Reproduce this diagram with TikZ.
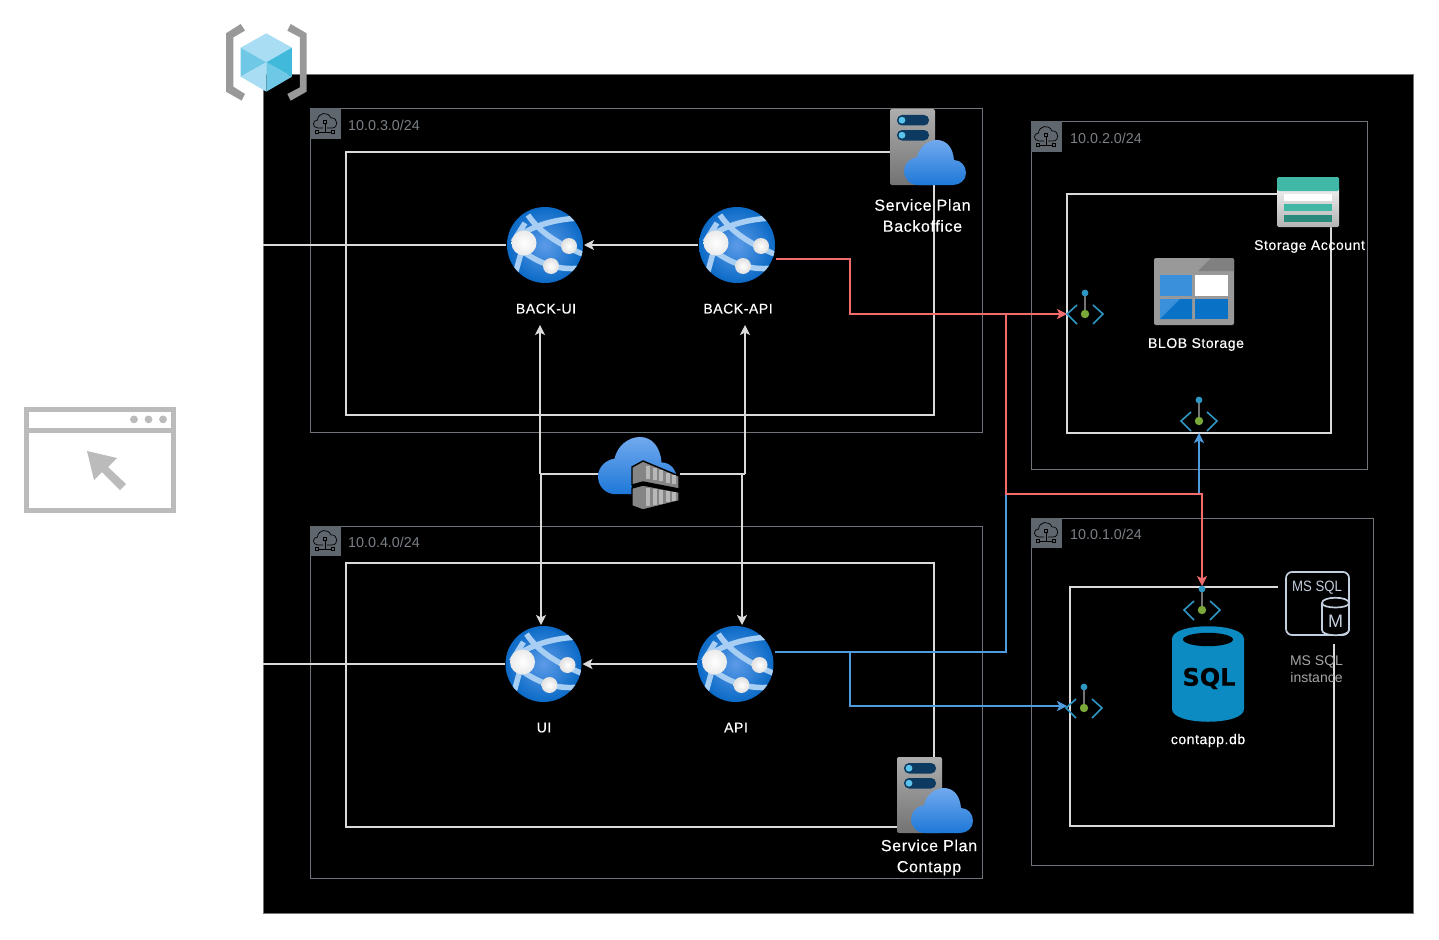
\documentclass[tikz,border=0pt]{standalone}
\usepackage{fontspec}
\setmainfont{Liberation Sans}
\newfontfamily\labelfont[LetterSpace=4,FakeBold=0.35]{Liberation Sans}
\newfontfamily\narrowfont[FakeStretch=0.88]{Liberation Sans}
\newfontfamily\sqlfont[FakeBold=0.6]{DejaVu Sans}
\usetikzlibrary{positioning,arrows.meta}

\definecolor{subnetline}{HTML}{6E747A}
\definecolor{subnettext}{HTML}{7B8086}
\definecolor{subnethead}{HTML}{5F666E}
\definecolor{boxline}{HTML}{DADADA}
\definecolor{linkred}{HTML}{F06C6C}
\definecolor{linkblue}{HTML}{4E9BE0}
\definecolor{cloudtop}{HTML}{71A9EE}
\definecolor{cloudlow}{HTML}{1E78D8}
\definecolor{pegreen}{HTML}{7AA93A}
\definecolor{peblue}{HTML}{2F97C4}
\definecolor{teal}{HTML}{41B8A5}
\definecolor{darkteal}{HTML}{2A8B7D}
\definecolor{sqlblue}{HTML}{0B8BC1}
\definecolor{mssqlline}{HTML}{C3CEDF}
\definecolor{windowgrey}{HTML}{BBBBBB}
\definecolor{globemid}{HTML}{5C9BE8}
\definecolor{globeedge}{HTML}{0B6AC6}
\definecolor{globeband}{HTML}{A8CFF3}
\definecolor{pillnavy}{HTML}{0D3A60}
\definecolor{pilldot}{HTML}{5CC4EC}
\definecolor{hexlight}{HTML}{A9DDF3}
\definecolor{hexmid}{HTML}{6FC9E6}
\definecolor{hexdark}{HTML}{40B9DA}
\definecolor{panelight}{HTML}{3B90DC}
\definecolor{panedark}{HTML}{0A72C6}

\tikzset{
    cloudpath/.pic={
        \path[top color=cloudtop, bottom color=cloudlow, pic actions]
            (14,45) .. controls (5,45) and (0,38) .. (0,31)
            .. controls (0,24) and (6,18) .. (13,17)
            .. controls (15,7) and (24,0) .. (33,0)
            .. controls (42,0) and (49,7) .. (50,20)
            .. controls (57,20) and (62,26) .. (62,33)
            .. controls (62,40) and (56,45) .. (49,45) -- cycle;
    },
    webappicon/.pic={
        \shade[inner color=globemid, outer color=globeedge] (0,0) circle (38);
        \begin{scope}
            \clip (0,0) circle (38);
            \draw[line width=5.5pt, color=globeband]
                (-17,-30) .. controls (-5,-12) and (15,0) .. (40,10)
                (-30,-5) .. controls (-20,-16) and (5,-26) .. (36,-27)
                (-20,8) .. controls (-8,16) and (10,26) .. (36,23)
                (-24,8) -- (-30,30)
                (-20,-22) -- (-32,-3);
        \end{scope}
        \shade[inner color=white, outer color=black!8] (-21,-2) circle (12.5);
        \shade[inner color=white, outer color=black!12] (24,1) circle (8);
        \shade[inner color=white, outer color=black!12] (6,21) circle (8);
    },
    planicon/.pic={
        \draw[rounded corners=2pt, draw=none, top color=black!32, bottom color=black!55] (0,0) rectangle (45,76);
        \foreach \row in {6,21}{
            \fill[color=pillnavy, rounded corners=5pt] (7,\row) rectangle (39,\row+10.5);
            \fill[color=pilldot] (12,\row+5.2) circle (3.4);
        }
        \pic[shift={(14,31)}] {cloudpath};
    },
    crateicon/.pic={
        \fill[color=black] (0,24) -- (11,21) -- (47,28) -- (47,31) -- (11,24) -- (0,27) -- cycle;
        \filldraw[draw=black, line width=1.4pt, fill=black!48]
            (0,6) -- (11,0) -- (47,15) -- (47,28) -- (11,21) -- (0,24) -- cycle;
        \filldraw[draw=black, line width=1.4pt, fill=black!48]
            (0,27) -- (11,24) -- (47,31) -- (47,40) -- (11,49) -- (0,45) -- cycle;
        \foreach \slat in {0,1,2,3,4}{
            \fill[color=black!28] (14+\slat*6.5,5+\slat*2.2) rectangle (18+\slat*6.5,18+\slat*1.2);
            \fill[color=black!28] (14+\slat*6.5,27+\slat*1.0) rectangle (18+\slat*6.5,45-\slat*1.2);
        }
    },
    storeicon/.pic={
        \fill[rounded corners=1.5pt, top color=black!6, bottom color=black!30] (0,10) rectangle (62,50);
        \fill[color=teal, rounded corners=1.5pt] (0,0) rectangle (62,14);
        \fill[color=white] (7,17) rectangle (55,24);
        \fill[color=teal] (7,27) rectangle (55,34);
        \fill[color=darkteal] (7,38) rectangle (55,45);
    },
    blobicon/.pic={
        \fill[color=black!40, rounded corners=2pt] (0,0) rectangle (80,67);
        \fill[color=black!50] (57,0) -- (78,0) -- (80,2) -- (80,13) -- (44,13) -- cycle;
        \fill[color=panelight] (6,17) rectangle (38,38);
        \fill[color=white] (41,17) rectangle (74,38);
        \fill[color=panelight] (6,41) rectangle (38,61);
        \fill[color=panedark] (6,61) -- (26,41) -- (38,41) -- (38,61) -- cycle;
        \fill[color=panedark] (41,41) rectangle (74,61);
    },
    endpointicon/.pic={
        \draw[color=peblue, line width=1.6pt] (-8,-9) -- (-18,0) -- (-8,10) (8,-9) -- (18,0) -- (8,10);
        \draw[color=black!55, line width=1.6pt] (0,-21) -- (0,0);
        \fill[color=peblue] (0,-21) circle (3.4);
        \fill[color=pegreen] (0,0) circle (4.2);
    },
    sqlicon/.pic={
        \fill[color=sqlblue] (0,13) .. controls (0,-4) and (72,-4) .. (72,13) -- (72,83)
            .. controls (72,100) and (0,100) .. (0,83) -- cycle;
        \fill[color=black] (36,13.5) ellipse (25 and 6.7);
        \node[font=\sqlfont\bfseries\fontsize{24}{24}\selectfont, color=black, inner sep=0pt] (sqltext) at (37,52.5) {SQL};
    },
    mssqlicon/.pic={
        \fill[color=black] (-8,-7) rectangle (69,72);
        \draw[color=mssqlline, line width=1.7pt, rounded corners=6pt] (0,0) rectangle (63,63);
        \node[font=\narrowfont\fontsize{15}{15}\selectfont, color=mssqlline, inner sep=0pt] (mssqltext) at (31,16) {MS SQL};
        \filldraw[color=mssqlline, line width=1.7pt, fill=black] (36,31) .. controls (36,24) and (63,24) .. (63,31)
            -- (63,58) .. controls (63,65) and (36,65) .. (36,58) -- cycle;
        \draw[color=mssqlline, line width=1.7pt] (36,31) .. controls (36,37) and (63,37) .. (63,31);
        \node[font=\fontsize{18}{18}\selectfont, color=mssqlline, inner sep=0pt] (mssqlm) at (49.5,49) {M};
    },
    windowicon/.pic={
        \draw[color=windowgrey, line width=4.6pt] (0,0) rectangle (147,101);
        \draw[color=windowgrey, line width=4.6pt] (0,21) -- (147,21);
        \foreach \dot in {107.4,121.9,136.4}{
            \fill[color=windowgrey] (\dot,10) circle (3.9);
        }
        \fill[color=windowgrey] (60.4,41.6) -- (90.4,48.6) -- (81.4,57.6) -- (99.4,74.6) -- (93.4,80.6) -- (75.4,62.6) -- (67.4,70.6) -- cycle;
    },
    registryicon/.pic={
        \fill[color=black!40] (62,42) -- (75,62) -- (40,82) -- (40,230) -- (75,252) -- (65,272) -- (18,245) -- (18,70) -- cycle;
        \fill[color=black!40] (212,42) -- (260,70) -- (260,245) -- (212,272) -- (202,252) -- (240,232) -- (240,82) -- (202,62) -- cycle;
        \fill[color=hexlight] (139,70) -- (216,113) -- (139,157) -- (62,113) -- cycle;
        \fill[color=hexmid] (62,113) -- (139,157) -- (62,200) -- cycle;
        \fill[color=hexdark] (216,113) -- (139,157) -- (216,200) -- cycle;
        \fill[color=hexlight] (62,200) -- (139,157) -- (139,245) -- cycle;
        \fill[color=hexmid] (139,157) -- (216,200) -- (139,245) -- cycle;
    },
    subneticon/.pic={
        \fill[color=subnethead] (-0.5,-0.5) rectangle (31,30);
        \draw[color=black, line width=0.7pt] (8,19) .. controls (2,19) and (2,11) .. (7.5,11)
            .. controls (8,3.5) and (18,2) .. (21,9) .. controls (28,8) and (29,19) .. (22,19) -- (17,19)
            (13,19) -- (8,19);
        \draw[color=black, line width=0.7pt] (13.2,11) rectangle (16.8,14.5) (15,14.5) -- (15,23) (8.5,23) -- (21.5,23);
        \draw[color=black, line width=0.7pt] (5.2,21) rectangle (8.7,24.5) (21.3,21) rectangle (24.8,24.5);
    },
}

\begin{document}
\begin{tikzpicture}[
        x=1pt, y=-1pt,
        subnet/.style={draw=subnetline, line width=1pt},
        appbox/.style={draw=boxline, line width=1.15pt},
        subnetlabel/.style={color=subnettext, font=\fontsize{14.3}{14.3}\selectfont, anchor=west, inner sep=0pt},
        applabel/.style={color=white, font=\labelfont\fontsize{14}{14}\selectfont, inner sep=0pt},
        planlabel/.style={color=white, font=\labelfont\fontsize{16}{21}\selectfont, inner sep=0pt, align=center},
        sitenode/.style={minimum size=76pt, inner sep=0pt, outer sep=1pt},
        pepoint/.style={minimum width=36pt, minimum height=48pt, inner sep=0pt, outer sep=0pt},
        arr/.style={-{Stealth[length=10pt,width=10pt,inset=2.5pt]}, color=boxline, line width=1.15pt},
        plainlink/.style={color=boxline, line width=1.15pt},
        redlink/.style={-{Stealth[length=10pt,width=10pt,inset=2.5pt]}, color=linkred, line width=1.3pt},
        bluelink/.style={-{Stealth[length=10pt,width=10pt,inset=2.5pt]}, color=linkblue, line width=1.3pt},
    ]
    \useasboundingbox (0,0) rectangle (1439,939);
    \fill[color=white] (0,0) rectangle (1439,939);

    % --- Tlo i podsieci ---
    \filldraw[fill=black, draw=black!55, line width=0.6pt] (263,74) rectangle (1413.5,913);
    \draw[subnet] (310,109) rectangle (982,432);
    \draw[subnet] (1031,122) rectangle (1367,469);
    \draw[subnet] (310,526) rectangle (982,878);
    \draw[subnet] (1031,518) rectangle (1373,865);
    \draw[appbox] (346,152) rectangle (934,415);
    \draw[appbox] (346,563) rectangle (934,827);
    \draw[appbox] (1067,194) rectangle (1331,433);
    \draw[appbox] (1070,587) rectangle (1334,826);

    % --- Wezly ---
    \node[sitenode] (backui) at (545,245) {};
    \node[sitenode] (backapi) at (737,245) {};
    \node[sitenode] (ui) at (543.5,664) {};
    \node[sitenode] (api) at (735.5,664) {};
    \node[minimum width=82pt, minimum height=73pt, inner sep=0pt] (registry) at (639,474) {};
    \node[pepoint] (pestorage) at (1085,314) {};
    \node[pepoint, minimum height=24pt] (peblob) at (1199,421) {};
    \node[pepoint] (pesql) at (1202,610) {};
    \node[pepoint] (peapp) at (1085,706) {};

    \coordinate (inetback) at (263,245);
    \coordinate (inetfront) at (263,664);
    \coordinate (backapiout) at (776,259);
    \coordinate (redturn) at (850,314);
    \coordinate (redsplit) at (1006,314);
    \coordinate (crossing) at (1006,494);
    \coordinate (apiout) at (775,652);
    \coordinate (blueturn) at (850,706);
    \coordinate (regleftup) at (540,474);
    \coordinate (regrightup) at (745,474);
    \coordinate (regleftdown) at (541,474);
    \coordinate (regrightdown) at (742,474);
    \coordinate (backuiin) at (540,325);
    \coordinate (backapiin) at (745,325);

    % --- Strzalki ---
    \draw[plainlink] (inetback) -- (backui);
    \draw[plainlink] (inetfront) -- (ui);
    \draw[arr] (backapi.west) -- (backui.east);
    \draw[arr] (api.west) -- (ui.east);
    \draw[plainlink] (regleftup) -- (registry.west);
    \draw[plainlink] (registry.east) -- (regrightup);
    \draw[arr] (regleftup) -- (backuiin);
    \draw[arr] (regrightup) -- (backapiin);
    \draw[arr] (regleftdown) -- (regleftdown |- ui.north);
    \draw[arr] (regrightdown) -- (regrightdown |- api.north);
    \draw[bluelink, -] (apiout) -| (crossing);
    \draw[bluelink] (crossing) -| (peblob.south);
    \draw[bluelink] (apiout) -| (blueturn) -- (peapp.west);
    \draw[redlink] (backapiout) -| (redturn) -- (pestorage.west);
    \draw[redlink] (redsplit) -- (crossing) -| (pesql.north);

    % --- Ikony ---
    \pic at (26.6,409.4) {windowicon};
    \pic[scale=0.3333] at (220,10) {registryicon};
    \pic at (310,109) {subneticon};
    \pic at (1031,122) {subneticon};
    \pic at (310,526) {subneticon};
    \pic at (1031,518) {subneticon};
    \pic at (backui) {webappicon};
    \pic at (backapi) {webappicon};
    \pic at (ui) {webappicon};
    \pic at (api) {webappicon};
    \pic at (890,109) {planicon};
    \pic at (897,757) {planicon};
    \pic[scale=1.27] at (598,437) {cloudpath};
    \pic at (632,461) {crateicon};
    \pic at (1277,177) {storeicon};
    \pic at (1154,258) {blobicon};
    \pic at (1085,314) {endpointicon};
    \pic at (1199,421) {endpointicon};
    \pic at (1202,610) {endpointicon};
    \pic at (1084,708) {endpointicon};
    \pic at (1172,626) {sqlicon};
    \pic at (1286,572) {mssqlicon};

    % --- Opisy ---
    \node[subnetlabel] (lab3) at (348,125) {10.0.3.0/24};
    \node[subnetlabel] (lab2) at (1070,138) {10.0.2.0/24};
    \node[subnetlabel] (lab4) at (348,542) {10.0.4.0/24};
    \node[subnetlabel] (lab1) at (1070,534) {10.0.1.0/24};
    \node[applabel, below=19.5pt of backui, xshift=1pt] (backuitext) {BACK-UI};
    \node[applabel, below=19.5pt of backapi, xshift=1pt] (backapitext) {BACK-API};
    \node[applabel, below=19.5pt of ui, xshift=0.5pt] (uitext) {UI};
    \node[applabel, below=19.5pt of api, xshift=0.5pt] (apitext) {API};
    \node[planlabel] (planbacktext) at (922.5,215.5) {Service Plan\\Backoffice};
    \node[planlabel] (planconttext) at (929,857.5) {Service Plan\\Contapp};
    \node[applabel] (storetext) at (1309.5,246.5) {Storage Account};
    \node[applabel] (blobtext) at (1196,344.5) {BLOB Storage};
    \node[applabel] (dbtext) at (1208,740.5) {contapp.db};
    \node[subnetlabel, anchor=center, align=center, color=black!35, font=\fontsize{14}{17}\selectfont] (mssqllabel) at (1316.5,669) {MS SQL\\instance};
\end{tikzpicture}
\end{document}
